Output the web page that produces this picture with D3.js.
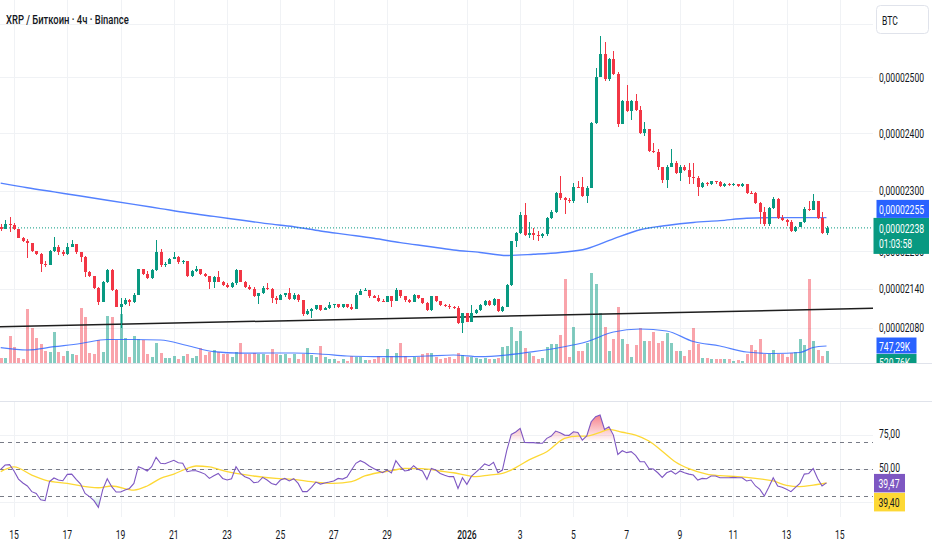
<!DOCTYPE html>
<html><head><meta charset="utf-8">
<script src="https://cdn.jsdelivr.net/npm/d3@7"></script>
<style>html,body{margin:0;padding:0;background:#fff;overflow:hidden}svg{display:block;font-family:Roboto,"Noto Sans",sans-serif}</style>
</head><body><svg id="c" width="932" height="550"></svg>
<script>
// ---------------- DATA ----------------
const startTime = Date.UTC(2025, 11, 14, 12); // first visible 4h candle
const barHours = 4;
const open0 = 2240; // price unit: 1e-8 BTC
const closes = [2236,2245,2243,2236,2222,2217,2213,2200,2195,2179,
2178,2201,2206,2199,2195,2207,2211,2198,2191,2167,
2160,2141,2120,2151,2170,2138,2112,2116,2123,2119,
2131,2171,2164,2157,2170,2199,2177,2180,2188,2191,
2182,2184,2160,2168,2171,2164,2160,2150,2159,2151,
2146,2143,2149,2170,2151,2143,2139,2129,2133,2142,
2139,2125,2122,2130,2133,2124,2131,2122,2100,2105,
2109,2114,2107,2110,2115,2116,2111,2116,2111,2108,
2131,2137,2138,2128,2126,2121,2120,2128,2121,2138,
2128,2122,2120,2130,2125,2118,2107,2128,2121,2115,
2113,2112,2110,2087,2102,2089,2102,2107,2115,2121,
2115,2124,2105,2112,2146,2216,2230,2260,2227,2230,
2227,2224,2228,2254,2265,2296,2287,2285,2283,2307,
2306,2291,2305,2417,2500,2543,2496,2533,2506,2415,
2457,2439,2457,2441,2400,2406,2369,2366,2340,2318,
2341,2348,2330,2341,2335,2324,2321,2306,2313,2311,
2316,2315,2308,2312,2310,2312,2308,2312,2297,2296,
2280,2265,2245,2271,2286,2254,2251,2248,2233,2240,
2247,2269,2268,2282,2254,2230,2238];
const highs = [2245,2251,2256,2246,2236,2223,2220,2213,2200,2197,
2184,2202,2223,2210,2202,2213,2218,2212,2199,2192,
2168,2160,2143,2152,2171,2171,2140,2126,2125,2124,
2133,2172,2172,2168,2171,2218,2204,2182,2189,2198,
2192,2186,2184,2170,2176,2171,2165,2160,2160,2168,
2152,2149,2150,2171,2170,2152,2146,2143,2134,2144,
2149,2141,2129,2132,2134,2141,2133,2132,2123,2108,
2110,2115,2115,2112,2120,2117,2116,2117,2116,2117,
2133,2139,2142,2138,2131,2130,2124,2129,2129,2141,
2138,2129,2124,2132,2131,2126,2119,2129,2129,2121,
2117,2116,2113,2113,2103,2103,2115,2108,2116,2122,
2122,2125,2124,2113,2147,2217,2231,2265,2279,2248,
2238,2233,2230,2256,2268,2298,2325,2290,2288,2313,
2316,2324,2308,2419,2518,2577,2565,2535,2548,2509,
2459,2486,2459,2470,2447,2420,2407,2382,2371,2340,
2344,2371,2350,2344,2344,2347,2347,2325,2315,2314,
2317,2317,2316,2313,2313,2313,2312,2313,2312,2300,
2298,2281,2272,2273,2290,2287,2259,2253,2251,2241,
2248,2272,2282,2295,2283,2265,2241];
const lows = [2233,2236,2231,2234,2221,2215,2189,2198,2194,2167,
2175,2178,2199,2194,2192,2194,2206,2196,2182,2159,
2159,2140,2115,2119,2149,2137,2111,2079,2115,2113,
2118,2130,2162,2156,2156,2168,2175,2175,2179,2187,
2180,2180,2159,2159,2167,2162,2159,2140,2141,2150,
2145,2142,2142,2146,2150,2142,2138,2127,2116,2132,
2138,2118,2116,2122,2127,2122,2122,2120,2098,2099,
2094,2107,2105,2108,2109,2110,2110,2110,2110,2107,
2108,2130,2136,2126,2125,2119,2119,2119,2111,2121,
2126,2119,2118,2119,2124,2117,2105,2106,2119,2113,
2112,2108,2108,2085,2072,2088,2088,2100,2106,2113,
2113,2113,2104,2104,2111,2144,2207,2228,2225,2221,
2218,2217,2222,2225,2253,2263,2284,2261,2280,2279,
2305,2290,2280,2304,2416,2501,2494,2494,2505,2410,
2415,2437,2423,2439,2398,2395,2367,2364,2335,2313,
2305,2340,2328,2317,2334,2312,2312,2291,2305,2308,
2310,2312,2307,2307,2308,2308,2307,2307,2295,2295,
2278,2245,2241,2241,2269,2252,2249,2241,2231,2232,
2240,2246,2266,2268,2252,2228,2226];
// volume in thousands
const volumes = [220,220,1188,704,220,176,2376,1540,1100,836,528,484,1364,484,308,528,396,352,2420,2024,440,396,1012,484,2068,2024,1012,2156,1100,264,1188,1056,1012,
396,264,880,440,220,220,308,176,308,396,220,308,660,352,484,572,484,396,396,264,484,880,396,396,440,396,396,352,616,396,352,396,
220,396,176,396,660,352,264,748,264,176,176,88,176,88,308,264,264,132,132,176,308,220,616,308,440,880,308,176,264,264,396,440,440,264,176,220,264,176,440,352,264,264,220,176,220,176,176,220,
717,748,1571,968,1408,647,427,308,163,207,717,823,823,1232,3683,277,1571,528,528,867,3973,3476,2187,1571,541,1056,2477,1056,836,251,792,1527,968,968,1377,880,
968,1333,893,528,528,321,572,1527,823,207,207,163,163,163,163,163,101,132,101,396,779,572,1069,396,396,572,396,396,277,453,497,1043,779,3683,968,572,321,520.76];
const ma200Idx = [0,6,12,18,24,30,36,42,48,54,60,66,72,78,84,90,96,102,108,114,120,126,132,138,144,150,156,162,168,174,180,186];
const ma200 = [2313,2305,2298,2291,2284,2277,2270,2263,2257,2251,2245,2240,2233,2227,2221,2214,2208,2202,2198,2193,2195,2198,2204,2220,2235,2242,2247,2250,2254,2255,2255,2255];
const volMaIdx = [0,6,12,18,24,30,36,42,48,54,60,66,72,78,84,90,96,102,108,114,120,126,132,138,144,150,156,162,168,174,180,183,186];
const volMa = [673,572,717,858,1034,1034,1012,770,497,431,440,440,396,308,282,277,308,352,277,352,497,682,937,1364,1496,1408,946,748,484,418,462,682,747.29];
const rsi = [49.5,52.7,53.0,48.3,42.3,39.4,37.2,33.0,31.7,27.0,
26.3,40.4,43.1,41.6,41.1,45.8,46.0,42.1,38.6,31.7,
29.3,26.3,21.4,34.7,42.6,36.7,32.7,32.7,34.2,35.4,
39.1,51.5,50.2,48.3,51.5,58.4,54.0,53.7,54.9,56.2,
54.4,54.0,47.8,48.5,48.5,47.3,46.0,42.8,44.8,46.5,
42.8,41.6,42.6,51.5,46.5,44.1,42.8,39.6,40.1,43.6,
41.6,39.1,38.1,41.6,42.8,40.9,42.6,39.1,33.0,33.0,
36.2,40.1,38.6,39.4,40.1,40.9,42.8,42.3,43.8,49.0,
54.0,55.9,54.4,52.0,50.2,48.5,47.0,49.0,46.8,55.9,
51.5,48.3,48.8,52.2,49.5,
48.3,42.1,50.2,49.0,46.5,45.1,44.1,44.1,35.4,43.3,
38.4,44.3,47.3,50.2,53.5,52.2,54.7,47.0,49.0,63.8,
75.4,77.2,79.9,69.5,69.3,69.3,68.8,68.8,72.5,74.2,
77.9,76.7,74.9,74.7,77.4,76.9,71.2,74.2,84.8,88.5,
89.8,79.1,81.1,74.9,60.6,63.3,61.9,62.6,59.9,55.2,
55.2,50.2,49.8,47.0,43.6,47.0,48.3,46.0,48.3,47.0,
46.0,45.3,41.6,42.8,42.6,44.6,44.6,43.3,43.3,43.3,
43.6,43.3,43.3,40.9,41.6,37.2,34.7,29.8,36.2,43.3,
37.2,36.2,34.7,33.0,36.2,39.1,46.0,46.5,50.2,42.8,
37.2,39.47];
const rsiMaIdx = [0,3,7,10,15,22,25,30,33,36,39,42,44,47,51,57,62,66,70,75,79,82,85,88,91,95,99,102,105,107,110,113,116,119,123,127,130,132,135,137,140,143,146,149,152,155,159,162,166,170,174,177,180,183,186];
const rsiMa = [47.8,51.3,45.3,41.6,39.1,35.9,37.2,34.2,37.2,42.8,46.0,50.2,52.0,51.3,47.8,44.6,42.8,42.1,40.4,39.1,40.4,44.6,47.0,48.5,50.2,50.0,48.3,47.0,45.1,44.1,45.3,46.5,50.8,56.5,62.6,72.5,74.2,74.2,76.9,79.1,77.0,74.9,70.5,63.0,55.0,50.0,46.0,44.8,44.1,42.8,40.9,37.7,36.7,37.9,39.40];
const priceGrid = [2600,2500,2400,2300,2200,2140,2080];
const priceLabels = [2500,2400,2300,2200,2140,2080];
const tickDates = [[2025,11,15],[2025,11,17],[2025,11,19],[2025,11,21],[2025,11,23],[2025,11,25],[2025,11,27],[2025,11,29],[2026,0,1],[2026,0,3],[2026,0,5],[2026,0,7],[2026,0,9],[2026,0,11],[2026,0,13],[2026,0,15]];
const tickLabels = ["15","17","19","21","23","25","27","29","2026","3","5","7","9","11","13","15"];
const rsiGrid = [100,75,50,25];
const rsiAxisTicks = [75,50];
const rsiBands = [70,50,30];
const trendIdx = [0,186];
const trendPrice = [2081.2,2108.0];
const lastPrice = 2238, maLast = 2255, volMaLast = 747.29, volLast = 520.76, rsiLast = 39.47, rsiMaLast = 39.40;
const countdown = "01:03:58";
const title = "XRP / Биткоин · 4ч · Binance";
const currency = "BTC";

// ---------------- LAYOUT ----------------
const W = 932, PR = 873, mainBot = 363, rsiTop = 402, rsiBot = 517, SX = 0.66;
const UP = '#089981', DN = '#F23645', TXT = '#131722', GRID = '#f0f2f5';
const svg = d3.select('#c');
svg.append('rect').attr('width', W).attr('height', 550).attr('fill', '#fff');
const defs = svg.append('defs');
defs.append('clipPath').attr('id','cm').append('rect').attr('x',0).attr('y',0).attr('width',PR).attr('height',mainBot);
defs.append('clipPath').attr('id','cr').append('rect').attr('x',0).attr('y',rsiTop).attr('width',PR).attr('height',rsiBot-rsiTop);
defs.append('clipPath').attr('id','ca').append('rect').attr('x',PR).attr('y',0).attr('width',W-PR).attr('height',mainBot);

const dateOf = i => new Date(startTime + i * barHours * 3600e3);
const x = d3.scaleUtc().domain([dateOf(0), dateOf(186)]).range([0.7, 826.5]);
const y = d3.scaleLog().domain([2080, 2500]).range([327.5, 77.3]);
const yv = d3.scaleLinear().domain([0, 4400]).range([mainBot, mainBot - 100]);
const yr = d3.scaleLinear().domain([30, 70]).range([495.7, 441.7]);
const fmtP = v => (v * 1e-8).toFixed(8).replace('.', ',');
const fmt2 = v => v.toFixed(2).replace('.', ',');

function T(sel, px, py, s, o = {}) {
  return sel.append('text').attr('transform', `translate(${px},${py}) scale(${o.sx || SX},1)`)
    .attr('text-anchor', o.anchor || 'start').attr('dy', '0.36em').attr('font-size', o.size || 13)
    .attr('font-weight', o.weight || 400).attr('fill', o.fill || TXT).text(s);
}

const bars = closes.map((c, i) => {
  const o = i === 0 ? open0 : closes[i - 1];
  return { i, d: dateOf(i), o, c, h: Math.max(highs[i], o, c), l: Math.min(lows[i], o, c), v: volumes[i], r: rsi[i] };
});

// ---------------- GRID ----------------
const grid = svg.append('g').attr('shape-rendering', 'crispEdges');
const tickX = tickDates.map(t => x(new Date(Date.UTC(t[0], t[1], t[2]))));
tickX.forEach(tx => {
  grid.append('line').attr('x1', Math.round(tx) + .5).attr('x2', Math.round(tx) + .5).attr('y1', 0).attr('y2', mainBot).attr('stroke', GRID);
  grid.append('line').attr('x1', Math.round(tx) + .5).attr('x2', Math.round(tx) + .5).attr('y1', rsiTop).attr('y2', rsiBot).attr('stroke', GRID);
});
priceGrid.forEach(p => grid.append('line').attr('x1', 0).attr('x2', PR).attr('y1', Math.round(y(p)) + .5).attr('y2', Math.round(y(p)) + .5).attr('stroke', GRID));
rsiGrid.forEach(r => grid.append('line').attr('x1', 0).attr('x2', PR).attr('y1', Math.round(yr(r)) + .5).attr('y2', Math.round(yr(r)) + .5).attr('stroke', GRID));
[mainBot + .5, rsiTop - .5].forEach(sy => svg.append('line').attr('x1', 0).attr('x2', W).attr('y1', sy).attr('y2', sy).attr('stroke', '#e0e3eb').attr('stroke-width', 1.2));

// ---------------- MAIN PANE ----------------
const main = svg.append('g').attr('clip-path', 'url(#cm)');
main.append('g').attr('shape-rendering', 'crispEdges').selectAll('rect').data(bars).join('rect')
  .attr('x', d => Math.round(x(d.d)) - 1).attr('width', 3)
  .attr('y', d => yv(d.v)).attr('height', d => mainBot - yv(d.v))
  .attr('fill', d => d.c >= d.o ? 'rgba(8,153,129,0.5)' : 'rgba(242,54,69,0.45)');
main.append('path').datum(volMaIdx.map((k, j) => [x(dateOf(k)), yv(volMa[j])]))
  .attr('d', d3.line().curve(d3.curveMonotoneX)).attr('fill', 'none').attr('stroke', '#2962FF').attr('stroke-opacity', .8).attr('stroke-width', 1.2);
main.append('path').datum(ma200Idx.map((k, j) => [x(dateOf(k)), y(ma200[j])]))
  .attr('d', d3.line().curve(d3.curveMonotoneX)).attr('fill', 'none').attr('stroke', '#2962FF').attr('stroke-opacity', .8).attr('stroke-width', 1.4);
{
  const ax = x(dateOf(trendIdx[0])), ay = y(trendPrice[0]), bx = x(dateOf(trendIdx[1])), by = y(trendPrice[1]);
  const k = (by - ay) / (bx - ax);
  main.append('line').attr('x1', 0).attr('y1', ay + k * (0 - ax)).attr('x2', PR).attr('y2', ay + k * (PR - ax))
    .attr('stroke', '#1e1e1e').attr('stroke-width', 1.5);
}
main.append('line').attr('x1', 0).attr('x2', PR).attr('y1', y(lastPrice)).attr('y2', y(lastPrice))
  .attr('stroke', UP).attr('stroke-dasharray', '1,2').attr('stroke-width', 1);
const cg = main.append('g').attr('shape-rendering', 'crispEdges');
cg.selectAll('line').data(bars).join('line')
  .attr('x1', d => Math.round(x(d.d)) + .5).attr('x2', d => Math.round(x(d.d)) + .5)
  .attr('y1', d => y(d.h)).attr('y2', d => y(d.l)).attr('stroke', d => d.c >= d.o ? UP : DN);
cg.selectAll('rect').data(bars).join('rect')
  .attr('x', d => Math.round(x(d.d)) - 1).attr('width', 3)
  .attr('y', d => Math.min(y(d.o), y(d.c))).attr('height', d => Math.max(1, Math.abs(y(d.o) - y(d.c))))
  .attr('fill', d => d.c >= d.o ? UP : DN);

// ---------------- RSI PANE ----------------
const rp = svg.append('g').attr('clip-path', 'url(#cr)');
const gOB = defs.append('linearGradient').attr('id', 'gob').attr('gradientUnits', 'userSpaceOnUse').attr('x1', 0).attr('x2', 0).attr('y1', yr(100)).attr('y2', yr(70));
gOB.append('stop').attr('offset', 0).attr('stop-color', DN).attr('stop-opacity', .95);
gOB.append('stop').attr('offset', 1).attr('stop-color', DN).attr('stop-opacity', 0);
const gOS = defs.append('linearGradient').attr('id', 'gos').attr('gradientUnits', 'userSpaceOnUse').attr('x1', 0).attr('x2', 0).attr('y1', yr(30)).attr('y2', yr(0));
gOS.append('stop').attr('offset', 0).attr('stop-color', UP).attr('stop-opacity', 0);
gOS.append('stop').attr('offset', 1).attr('stop-color', UP).attr('stop-opacity', .95);
defs.append('clipPath').attr('id', 'cob').append('rect').attr('x', 0).attr('y', rsiTop).attr('width', PR).attr('height', yr(70) - rsiTop);
defs.append('clipPath').attr('id', 'cos').append('rect').attr('x', 0).attr('y', yr(30)).attr('width', PR).attr('height', rsiBot - yr(30));
rp.append('path').datum(bars).attr('clip-path', 'url(#cob)')
  .attr('d', d3.area().x(d => x(d.d)).y0(yr(70)).y1(d => yr(d.r))).attr('fill', 'url(#gob)');
rp.append('path').datum(bars).attr('clip-path', 'url(#cos)')
  .attr('d', d3.area().x(d => x(d.d)).y0(yr(30)).y1(d => yr(d.r))).attr('fill', 'url(#gos)');
rsiBands.forEach(b => rp.append('line').attr('x1', 0).attr('x2', PR).attr('y1', Math.round(yr(b)) + .5).attr('y2', Math.round(yr(b)) + .5)
  .attr('stroke', '#787B86').attr('stroke-dasharray', '4,4').attr('shape-rendering', 'crispEdges'));
rp.append('path').datum(rsiMaIdx.map((k, j) => [x(dateOf(k)), yr(rsiMa[j])]))
  .attr('d', d3.line().curve(d3.curveMonotoneX)).attr('fill', 'none').attr('stroke', '#FDD835').attr('stroke-width', 1.3);
rp.append('path').datum(bars).attr('d', d3.line().x(d => x(d.d)).y(d => yr(d.r)))
  .attr('fill', 'none').attr('stroke', '#7E57C2').attr('stroke-width', 1.1);

// ---------------- AXES ----------------
const ax = svg.append('g');
priceLabels.forEach(p => T(ax, 879, y(p), fmtP(p)));
rsiAxisTicks.forEach(r => T(ax, 879, yr(r) - 1.5, fmt2(r)));
tickLabels.forEach((s, k) => T(ax, tickX[k], 534, s, { anchor: 'middle', weight: s.length === 4 ? 500 : 400 }));

ax.append('rect').attr('x', 876.5).attr('y', 5.5).attr('width', 52).attr('height', 28).attr('rx', 4).attr('fill', '#fff').attr('stroke', '#e0e3eb');
T(ax, 882, 20, currency);

const yP = y(lastPrice);
const boxL = 873.5, boxW = W - 3 - boxL;
ax.append('rect').attr('x', boxL).attr('y', yP - 10).attr('width', boxW).attr('height', 36).attr('fill', UP);
T(ax, 879, yP, fmtP(lastPrice), { fill: '#fff' });
T(ax, 879, yP + 15, countdown, { fill: '#fff' });
ax.append('rect').attr('x', 876.5).attr('y', yP - 28).attr('width', W - 3 - 876.5).attr('height', 18).attr('fill', '#2962FF');
T(ax, 879, yP - 19, fmtP(maLast), { fill: '#fff' });

const va = svg.append('g').attr('clip-path', 'url(#ca)');
const yVm = yv(volMaLast);
va.append('rect').attr('x', 876.5).attr('y', yVm - 8.5).attr('width', 40).attr('height', 16).attr('fill', '#2962FF');
T(va, 879, yVm, fmt2(volMaLast) + 'K', { fill: '#fff' });
va.append('rect').attr('x', 876.5).attr('y', yVm + 8).attr('width', 40).attr('height', 16).attr('fill', UP);
T(va, 879, yVm + 16.5, fmt2(volLast) + 'K', { fill: '#fff' });

const yR = yr(rsiLast);
ax.append('rect').attr('x', 874).attr('y', yR - 9).attr('width', 31).attr('height', 18.5).attr('fill', '#7E57C2');
T(ax, 878.5, yR, fmt2(rsiLast), { fill: '#fff' });
ax.append('rect').attr('x', 874).attr('y', yR + 10).attr('width', 31).attr('height', 18.5).attr('fill', '#FDD835');
T(ax, 878.5, yR + 19.2, fmt2(rsiMaLast));

T(svg, 6, 19.5, title, { size: 13.5, sx: 0.7, weight: 500 });
</script></body></html>
